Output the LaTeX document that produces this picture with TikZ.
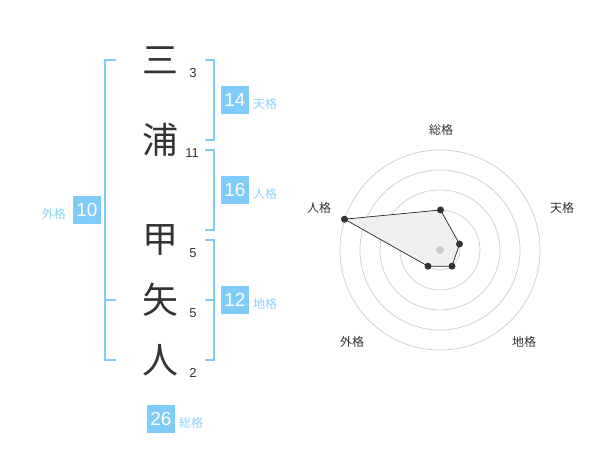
\documentclass[tikz,border=0pt]{standalone}
\usepackage{fontspec}
\setmainfont{Liberation Sans}
\newfontfamily\jp{Noto Sans CJK JP}
\definecolor{sky}{HTML}{80CCF8}
\definecolor{skytext}{HTML}{8CD0F5}
\definecolor{ink}{HTML}{333333}
\definecolor{ring}{HTML}{CCCCCC}
\begin{document}
\begin{tikzpicture}[x=1pt,y=-1pt,
  kanji/.style={font=\jp\fontsize{36}{36}\selectfont, text=ink, inner sep=0pt},
  strokes/.style={font=\fontsize{13}{13}\selectfont, text=ink, inner sep=0pt},
  bracket/.style={draw=sky, line width=2pt},
  numbox/.style={fill=sky, text=white, minimum width=28pt, minimum height=28pt, inner sep=0pt, font=\fontsize{19}{19}\selectfont},
  kaku/.style={font=\jp\fontsize{12}{12}\selectfont, text=skytext, inner sep=0pt},
  axislbl/.style={font=\jp\fontsize{12}{12}\selectfont, text=ink, inner sep=0pt},
  ringc/.style={draw=ring, line width=0.7pt},
  dot/.style={circle, fill=ink, minimum size=7pt, inner sep=0pt}
]
\useasboundingbox (0,0) rectangle (600,470);

% characters
\node[kanji] (c1) at (160,60) {三};
\node[kanji] (c2) at (160,140) {浦};
\node[kanji] (c3) at (160,240) {甲};
\node[kanji] (c4) at (160,300) {矢};
\node[kanji] (c5) at (160,360) {人};
% stroke counts
\node[strokes] (s1) at (193,73) {3};
\node[strokes] (s2) at (192,153) {11};
\node[strokes] (s3) at (193,253) {5};
\node[strokes] (s4) at (193,313) {5};
\node[strokes] (s5) at (193,373) {2};

% brackets
\draw[bracket] (116,60) -- (105,60) -- (105,360) -- (116,360);
\draw[bracket] (105,300) -- (116,300);
\draw[bracket] (205,60) -- (214,60) -- (214,140) -- (205,140);
\draw[bracket] (205,150) -- (214,150) -- (214,230) -- (205,230);
\draw[bracket] (205,240) -- (214,240) -- (214,360) -- (205,360);
\draw[bracket] (205,300) -- (214,300);

% boxes
\node[numbox] (ten) at (235,100) {14};
\node[kaku, anchor=west] (tenl) at (253,104) {天格};
\node[numbox] (jin) at (235,190) {16};
\node[kaku, anchor=west] (jinl) at (253,194) {人格};
\node[numbox] (chi) at (235,300) {12};
\node[kaku, anchor=west] (chil) at (253,304) {地格};
\node[numbox] (gai) at (87,210) {10};
\node[kaku, anchor=east] (gail) at (66,214) {外格};
\node[numbox] (sou) at (161,419) {26};
\node[kaku, anchor=west] (soul) at (179,423) {総格};

% radar
\coordinate (o) at (440,250);
\foreach \r in {20,40,60,80,100} \draw[ringc] (o) circle[radius=\r];
\coordinate (pS) at (440.5,210);
\coordinate (pT) at (459.5,244);
\coordinate (pC) at (452,266.2);
\coordinate (pG) at (428,266.2);
\coordinate (pJ) at (344.5,219.2);
\draw[fill=black!6, draw=black!85, line width=0.7pt] (pS) -- (pT) -- (pC) -- (pG) -- (pJ) -- cycle;
\node[circle, fill=ring, minimum size=8pt, inner sep=0pt] (ctr) at (o) {};
\foreach \p in {pS,pT,pC,pG,pJ} \node[dot] at (\p) {};
\node[axislbl] (aS) at (441,130) {総格};
\node[axislbl] (aT) at (562,208) {天格};
\node[axislbl] (aJ) at (319,208) {人格};
\node[axislbl] (aG) at (352,342) {外格};
\node[axislbl] (aC) at (524,342) {地格};
\end{tikzpicture}
\end{document}
